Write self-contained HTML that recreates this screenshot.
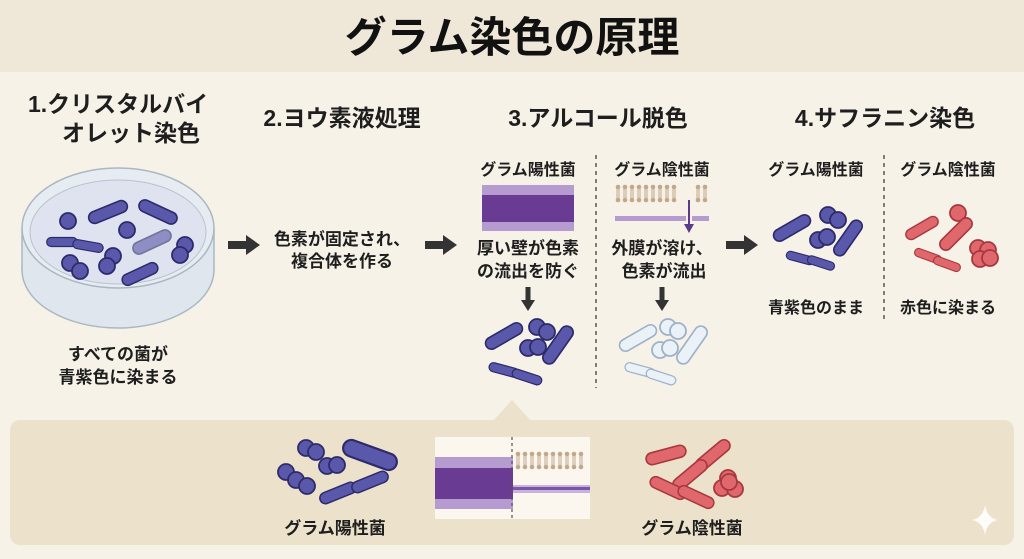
<!DOCTYPE html>
<html><head><meta charset="utf-8"><style>
html,body{margin:0;padding:0;background:#f7f2e8;}
svg{display:block;font-family:"Liberation Sans","Noto Sans CJK JP",sans-serif;}
.h{font-weight:bold;font-size:23px;fill:#1e1e1e;}
.t{font-weight:bold;font-size:17px;fill:#1e1e1e;}
.s{font-weight:bold;font-size:16px;fill:#1e1e1e;}
</style></head><body>
<svg width="1024" height="559" viewBox="0 0 1024 559" xmlns="http://www.w3.org/2000/svg">
<defs>
<g id="rb"><line x1="-18" y1="0" x2="18" y2="0" stroke="#2d2b6b" stroke-width="17" stroke-linecap="round"/><line x1="-18" y1="0" x2="18" y2="0" stroke="#5a58aa" stroke-width="13" stroke-linecap="round"/></g>
<g id="cb"><circle r="8" fill="#5a58aa" stroke="#2d2b6b" stroke-width="1.8"/></g>
<g id="rr"><line x1="-18" y1="0" x2="18" y2="0" stroke="#a8383f" stroke-width="17" stroke-linecap="round"/><line x1="-18" y1="0" x2="18" y2="0" stroke="#e0676c" stroke-width="13" stroke-linecap="round"/></g>
<g id="cr"><circle r="8" fill="#e0676c" stroke="#a8383f" stroke-width="1.8"/></g>
<g id="rl"><line x1="-18" y1="0" x2="18" y2="0" stroke="#9db2c8" stroke-width="17" stroke-linecap="round"/><line x1="-18" y1="0" x2="18" y2="0" stroke="#eaf1f7" stroke-width="13" stroke-linecap="round"/></g>
<g id="cl"><circle r="8" fill="#eaf1f7" stroke="#9db2c8" stroke-width="1.8"/></g>
<g id="lip"><circle cx="0" cy="0" r="2.3" fill="#c2a88a"/><line x1="-1" y1="2" x2="-1" y2="11" stroke="#c2a88a" stroke-width="1"/><line x1="1" y1="2" x2="1" y2="11" stroke="#c2a88a" stroke-width="1"/><circle cx="0" cy="13" r="2.3" fill="#c2a88a"/></g>
<g id="arr"><rect x="0" y="-4" width="20" height="8" fill="#333"/><polygon points="18,-10 32,0 18,10" fill="#333"/></g>
<g id="darr"><rect x="-2.5" y="0" width="5" height="15" fill="#333"/><polygon points="-7,13 7,13 0,24" fill="#333"/></g>
</defs>
<rect x="0" y="0" width="1024" height="72" fill="#efe7d8"/>
<text x="512" y="52" text-anchor="middle" font-size="42" font-weight="bold" fill="#111">グラム染色の原理</text>

<!-- Step 1 -->
<text class="h" x="28" y="112">1.クリスタルバイ</text>
<text class="h" x="62" y="141">オレット染色</text>
<ellipse cx="118" cy="270" rx="96" ry="58" fill="#dfe6ee" stroke="#aab8c2" stroke-width="1.5"/>
<rect x="22" y="228" width="192" height="42" fill="#dfe6ee"/>
<line x1="22" y1="228" x2="22" y2="270" stroke="#aab8c2" stroke-width="1.5"/>
<line x1="214" y1="228" x2="214" y2="270" stroke="#aab8c2" stroke-width="1.5"/>
<ellipse cx="118" cy="228" rx="96" ry="60" fill="#e6ecf2" stroke="#aab8c2" stroke-width="1.5"/>
<ellipse cx="118" cy="232" rx="88" ry="52" fill="#dfe2ef" stroke="#b7c4cc" stroke-width="1"/>
<use href="#cb" x="68" y="221"/>
<use href="#rb" transform="translate(108,212) rotate(-22) scale(0.8)"/>
<use href="#rb" transform="translate(158,212) rotate(25) scale(0.8)"/>
<use href="#cb" x="127" y="230"/>
<use href="#rb" transform="translate(62,242) scale(0.6)"/>
<use href="#rb" transform="translate(88,246) rotate(10) scale(0.6)"/>
<g opacity="0.6"><use href="#rb" transform="translate(152,242) rotate(-25) scale(0.8)"/></g>
<use href="#cb" x="185" y="245"/><use href="#cb" x="180" y="255"/>
<use href="#cb" x="70" y="263"/><use href="#cb" x="80" y="271"/>
<use href="#cb" x="113" y="256"/><use href="#cb" x="107" y="266"/>
<use href="#rb" transform="translate(140,274) rotate(-25) scale(0.75)"/>
<text class="t" x="118" y="360" text-anchor="middle">すべての菌が</text>
<text class="t" x="118" y="383" text-anchor="middle">青紫色に染まる</text>

<use href="#arr" x="228" y="245"/>

<!-- Step 2 -->
<text class="h" x="342" y="126" text-anchor="middle">2.ヨウ素液処理</text>
<text class="t" x="342" y="245" text-anchor="middle">色素が固定され、</text>
<text class="t" x="342" y="267" text-anchor="middle">複合体を作る</text>

<use href="#arr" x="425" y="245"/>

<!-- Step 3 -->
<text class="h" x="598" y="126" text-anchor="middle">3.アルコール脱色</text>
<line x1="596" y1="155" x2="596" y2="388" stroke="#555" stroke-width="1.5" stroke-dasharray="4,4"/>
<text class="s" x="528" y="175" text-anchor="middle">グラム陽性菌</text>
<rect x="482" y="185" width="92" height="46" fill="#b69bd0"/>
<rect x="482" y="195" width="92" height="27" fill="#6a3b93"/>
<text class="t" x="528" y="254" text-anchor="middle">厚い壁が色素</text>
<text class="t" x="528" y="277" text-anchor="middle">の流出を防ぐ</text>
<use href="#darr" x="528" y="287"/>
<use href="#rb" transform="translate(504,336) rotate(-30) scale(0.8)"/>
<use href="#cb" x="537" y="327"/><use href="#cb" x="547" y="332"/>
<use href="#cb" x="528" y="348"/><use href="#cb" x="538" y="347"/>
<use href="#rb" transform="translate(558,345) rotate(-55) scale(0.85)"/>
<use href="#rb" transform="translate(504,370) rotate(15) scale(0.6)"/>
<use href="#rb" transform="translate(527,377) rotate(18) scale(0.6)"/>

<text class="s" x="662" y="175" text-anchor="middle">グラム陰性菌</text>
<g>
<use href="#lip" x="618" y="187"/><use href="#lip" x="625" y="187"/><use href="#lip" x="632" y="187"/><use href="#lip" x="639" y="187"/><use href="#lip" x="646" y="187"/><use href="#lip" x="653" y="187"/><use href="#lip" x="660" y="187"/><use href="#lip" x="667" y="187"/><use href="#lip" x="674" y="187"/><use href="#lip" x="698" y="187"/><use href="#lip" x="705" y="187"/>
</g>
<rect x="615" y="216" width="94" height="5" fill="#b69bd0"/>
<rect x="686" y="212" width="6" height="12" fill="#f7f2e8"/>
<line x1="689" y1="200" x2="689" y2="225" stroke="#5a3a8a" stroke-width="2"/>
<polygon points="684,224 694,224 689,233" fill="#5a3a8a"/>
<text class="t" x="662" y="254" text-anchor="middle">外膜が溶け、</text>
<text class="t" x="664" y="277" text-anchor="middle">色素が流出</text>
<use href="#darr" x="662" y="287"/>
<use href="#rl" transform="translate(638,338) rotate(-30) scale(0.8)"/>
<use href="#cl" x="668" y="327"/><use href="#cl" x="678" y="331"/>
<use href="#cl" x="660" y="350"/><use href="#cl" x="670" y="348"/>
<use href="#rl" transform="translate(692,345) rotate(-55) scale(0.85)"/>
<use href="#rl" transform="translate(640,370) rotate(15) scale(0.6)"/>
<use href="#rl" transform="translate(661,377) rotate(18) scale(0.6)"/>

<use href="#arr" x="726" y="245"/>

<!-- Step 4 -->
<text class="h" x="885" y="126" text-anchor="middle">4.サフラニン染色</text>
<line x1="884" y1="155" x2="884" y2="322" stroke="#555" stroke-width="1.5" stroke-dasharray="4,4"/>
<text class="s" x="816" y="175" text-anchor="middle">グラム陽性菌</text>
<text class="s" x="948" y="175" text-anchor="middle">グラム陰性菌</text>
<use href="#rb" transform="translate(792,228) rotate(-30) scale(0.8)"/>
<use href="#cb" x="828" y="215"/><use href="#cb" x="838" y="220"/>
<use href="#cb" x="818" y="240"/><use href="#cb" x="827" y="237"/>
<use href="#rb" transform="translate(848,238) rotate(-55) scale(0.8)"/>
<use href="#rb" transform="translate(800,258) rotate(15) scale(0.55)"/>
<use href="#rb" transform="translate(821,263) rotate(18) scale(0.55)"/>
<use href="#rr" transform="translate(922,228) rotate(-30) scale(0.7)"/>
<use href="#cr" x="958" y="213"/>
<use href="#rr" transform="translate(956,234) rotate(-45) scale(0.8)"/>
<use href="#rr" transform="translate(928,256) rotate(20) scale(0.55)"/>
<use href="#rr" transform="translate(947,264) rotate(20) scale(0.55)"/>
<use href="#cr" x="978" y="248"/><use href="#cr" x="988" y="250"/><use href="#cr" x="980" y="259"/><use href="#cr" x="990" y="258"/>
<text class="s" x="816" y="313" text-anchor="middle">青紫色のまま</text>
<text class="s" x="948" y="313" text-anchor="middle">赤色に染まる</text>

<!-- Bottom panel -->
<rect x="10" y="420" width="1004" height="125" rx="10" fill="#ece1cb"/>
<polygon points="493,421 512,400 531,421" fill="#ece1cb"/>
<use href="#cb" x="306" y="448"/><use href="#cb" x="316" y="452"/>
<use href="#cb" x="327" y="466"/><use href="#cb" x="337" y="465"/>
<use href="#cb" x="286" y="472"/><use href="#cb" x="296" y="480"/><use href="#cb" x="307" y="486"/>
<use href="#rb" transform="translate(370,455) rotate(20) scale(1.1)"/>
<use href="#rb" transform="translate(338,493) rotate(-22) scale(0.75)"/>
<use href="#rb" transform="translate(370,482) rotate(-22) scale(0.75)"/>
<text class="t" x="335" y="534" text-anchor="middle" font-size="18">グラム陽性菌</text>

<rect x="435" y="437" width="155" height="82" fill="#fbf7ef"/>
<rect x="435" y="457" width="78" height="52" fill="#b69bd0"/>
<rect x="435" y="468" width="78" height="31" fill="#6a3b93"/>
<g>
<use href="#lip" x="518" y="454"/><use href="#lip" x="525" y="454"/><use href="#lip" x="532" y="454"/><use href="#lip" x="539" y="454"/><use href="#lip" x="546" y="454"/><use href="#lip" x="553" y="454"/><use href="#lip" x="560" y="454"/><use href="#lip" x="567" y="454"/><use href="#lip" x="574" y="454"/><use href="#lip" x="581" y="454"/>
</g>
<rect x="513" y="485" width="77" height="8" fill="#c7b3dd"/>
<rect x="513" y="487" width="77" height="3" fill="#7d55a8"/>
<line x1="512" y1="437" x2="512" y2="519" stroke="#555" stroke-width="1.2" stroke-dasharray="3,3"/>

<use href="#rr" transform="translate(666,455) rotate(-15) scale(0.8)"/>
<use href="#rr" transform="translate(713,455) rotate(-40) scale(0.8)"/>
<use href="#rr" transform="translate(690,475) rotate(-40) scale(0.8)"/>
<use href="#rr" transform="translate(668,488) rotate(25) scale(0.75)"/>
<use href="#rr" transform="translate(696,497) rotate(25) scale(0.75)"/>
<use href="#cr" x="728" y="478"/><use href="#cr" x="722" y="488"/><use href="#cr" x="735" y="489"/><use href="#cr" x="729" y="482"/>
<text class="t" x="692" y="534" text-anchor="middle" font-size="18">グラム陰性菌</text>
<path d="M985,505 Q987,518 998,520 Q987,522 985,535 Q983,522 972,520 Q983,518 985,505Z" fill="#fff" opacity="0.9"/>
</svg>
</body></html>
